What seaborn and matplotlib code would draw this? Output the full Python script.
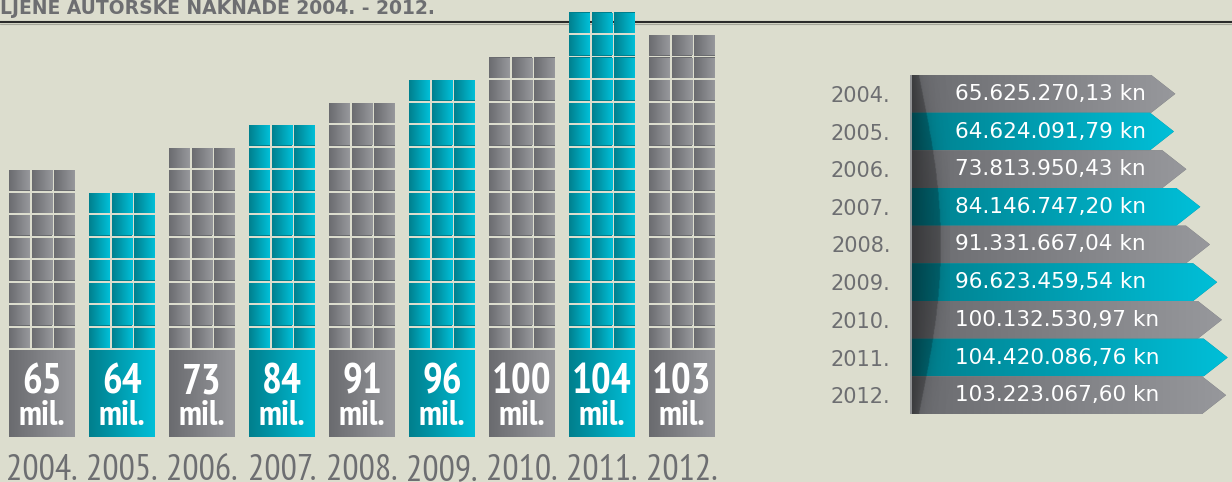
import numpy as np
import pandas as pd
import matplotlib
matplotlib.use("Agg")
import matplotlib.pyplot as plt
import matplotlib.colors as mcolors
import matplotlib.transforms as mtransforms
from matplotlib.patches import Polygon
from matplotlib.lines import Line2D
import seaborn as sns

# data
years = ['2004.', '2005.', '2006.', '2007.', '2008.', '2009.', '2010.', '2011.', '2012.']
amounts_mil = [65, 64, 73, 84, 91, 96, 100, 104, 103]
block_rows = [8, 7, 9, 10, 11, 12, 13, 15, 14]
amounts_kn = [65625270.13, 64624091.79, 73813950.43, 84146747.20, 91331667.04,
              96623459.54, 100132530.97, 104420086.76, 103223067.60]
amount_labels = ['65.625.270,13 kn', '64.624.091,79 kn', '73.813.950,43 kn',
                 '84.146.747,20 kn', '91.331.667,04 kn', '96.623.459,54 kn',
                 '100.132.530,97 kn', '104.420.086,76 kn', '103.223.067,60 kn']
title = 'LJENE AUTORSKE NAKNADE 2004. - 2012.'

BG = '#dcddce'
TXT = '#6d6e71'
GRAY = ('#6a6b6f', '#97989c')
TEAL = ('#007f8d', '#00bfd8')
NARROW = ['PT Sans Narrow', 'DejaVu Sans']

sns.set_theme(style='white', rc={'figure.facecolor': BG, 'axes.facecolor': BG})
plt.rcParams['font.family'] = ['DejaVu Sans']

W, H = 1232, 482
fig = plt.figure(figsize=(W / 100, H / 100), dpi=100)


def gradient(ax, patch, cols, extent):
    cmap = mcolors.LinearSegmentedColormap.from_list('g', list(cols))
    grad = np.linspace(0, 1, 128).reshape(1, -1)
    im = ax.imshow(grad, cmap=cmap, extent=extent, aspect='auto',
                   interpolation='bilinear', zorder=patch.get_zorder() + 0.1)
    im.set_clip_path(patch)


colors = [TEAL if i % 2 else GRAY for i in range(len(years))]

# ---- left: stacked block columns ----
PX = 22.5                 # pixels per row unit
LABEL_H = 87 / PX
GAP = 2 / PX
CELL_H = 20.5 / PX
BAR_W = 0.825
CELL_GAP = 0.028
CELL_W = (BAR_W - 2 * CELL_GAP) / 3

ax1 = fig.add_axes([2 / W, 45 / H, 720 / W, 437 / H])
ax1.patch.set_visible(False)
df = pd.DataFrame({'year': years, 'h': LABEL_H})
sns.barplot(data=df, x='year', y='h', hue='year', palette=[c[0] for c in colors],
            width=BAR_W, linewidth=0, legend=False, ax=ax1)
label_patches = list(ax1.patches)
for i, p in enumerate(label_patches):
    x0 = p.get_x()
    gradient(ax1, p, colors[i], (x0, x0 + BAR_W, 0, LABEL_H))

for i, n in enumerate(block_rows):
    for r in range(n):
        y0 = LABEL_H + GAP + r
        for c in range(3):
            x0 = i - BAR_W / 2 + c * (CELL_W + CELL_GAP)
            p = ax1.bar(x0, CELL_H, width=CELL_W, bottom=y0, align='edge',
                        color=colors[i][0], linewidth=0)[0]
            gradient(ax1, p, colors[i], (x0, x0 + CELL_W, y0, y0 + CELL_H))

for i, v in enumerate(amounts_mil):
    ax1.text(i, 44 / PX, str(v), ha='center', va='baseline', color='white',
             fontsize=30, fontweight='bold', family=NARROW, zorder=5)
    ax1.text(i, 12 / PX, 'mil.', ha='center', va='baseline', color='white',
             fontsize=25, fontweight='bold', family=NARROW, zorder=5)

ax1.set_xlim(-0.5, 8.5)
ax1.set_ylim(0, 437 / PX)
ax1.set_xlabel('')
ax1.set_ylabel('')
ax1.set_yticks([])
ax1.set_xticks(range(len(years)))
ax1.set_xticklabels(years, family=NARROW, fontsize=26, color=TXT)
ax1.tick_params(axis='x', length=0, pad=12)
sns.despine(ax=ax1, left=True, bottom=True)

# ---- right: arrow ribbons ----
S = 1.35                         # pixels per million
XB = (910 - 1086.7) / S          # left edge in millions
XR = (1232 - 1086.7) / S
TIP = 24 / S
ax2 = fig.add_axes([910 / W, (H - 414) / H, 322 / W, 339 / H])
ax2.patch.set_visible(False)
vals = [v / 1e6 for v in amounts_kn]
for i, v in enumerate(vals):
    pts = [(XB, i - 0.5), (v - TIP, i - 0.5), (v, i), (v - TIP, i + 0.5), (XB, i + 0.5)]
    poly = Polygon(pts, closed=True, facecolor=colors[i][0], edgecolor='none', zorder=2)
    ax2.add_patch(poly)
    gradient(ax2, poly, colors[i], (XB, v, i + 0.5, i - 0.5))
    ax2.text(0.14, i, amount_labels[i], transform=mtransforms.blended_transform_factory(
        ax2.transAxes, ax2.transData), ha='left', va='center', color='white',
        fontsize=15.5, zorder=6)

# dark lens shading on the left edge
hh, ww = 200, 60
t = np.linspace(0, 1, hh)[:, None]
dx = np.linspace(0, 40, ww)[None, :]
wl = 9 + 22 * np.sin(np.pi * t)
alpha = np.where(dx < wl, 0.30 + 0.18 * (1 - dx / wl), 0.10 * np.exp(-(dx - wl) / 8))
shade = np.zeros((hh, ww, 4))
shade[..., 3] = alpha
ax2.imshow(shade, extent=(XB, XB + 40 / S, 8.5, -0.5), aspect='auto', zorder=4,
           interpolation='bilinear')
ax2.plot([XB + 0.4, XB + 0.4], [-0.5, 8.5], color='#a2a3a5', lw=1.2, zorder=5)

ax2.set_xlim(XB, XR)
ax2.set_ylim(8.5, -0.5)
ax2.set_xticks([])
ax2.set_yticks(range(len(years)))
ax2.set_yticklabels(years, fontsize=15, color=TXT)
ax2.tick_params(axis='y', length=0, pad=14)
sns.despine(ax=ax2, left=True, bottom=True)

# title and rule
fig.text(0, 1 - 14 / H, title, ha='left', va='baseline', fontsize=13.5,
         fontweight='bold', color=TXT)
fig.add_artist(Line2D([0, 1], [1 - 22 / H, 1 - 22 / H], color='#2a2a2a', lw=1.5, zorder=-1))
fig.add_artist(Line2D([0, 1], [1 - 24 / H, 1 - 24 / H], color='#a5a69a', lw=0.8, zorder=-1))

fig.savefig('out.png', dpi=100, facecolor=BG)
